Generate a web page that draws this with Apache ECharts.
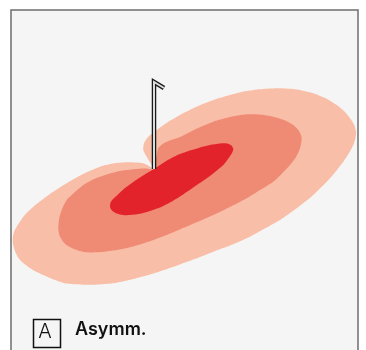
<!DOCTYPE html>
<html>
<head>
<meta charset="utf-8">
<script src="https://cdn.jsdelivr.net/npm/echarts@6/dist/echarts.min.js"></script>
<style>html,body{margin:0;padding:0;background:#fff;}#c{width:366px;height:350px;}</style>
</head>
<body>
<div id="c"></div>
<script>
// Contour outlines (data units relative to storm centre)
var outerContour = [[0,0],[-2.3,4],[-7.3,12.3],[-10.7,19],[-10,25.7],[-5.7,32.3],[2.7,39],[14,47],[26,54],[42,62],[59.3,69],[76,74],[92.7,78],[109,80],[126,80.7],[143,79.5],[159.3,75.7],[172,70.5],[182.7,64],[190,58],[196,50.7],[200,44.5],[202,37.3],[201.5,31],[199.3,24],[195,16],[189.3,7.3],[176,-9.3],[159.3,-26],[142.7,-39.3],[126,-51],[109,-60.5],[92.7,-69.3],[76,-76.5],[59.3,-82.7],[42,-89.6],[26,-95.5],[11,-100.7],[-4,-105.5],[-21,-110.1],[-37.3,-113.7],[-61,-115.8],[-87.3,-114.6],[-104,-109],[-121,-101],[-134,-91],[-139.5,-81],[-141.3,-71],[-140,-63],[-137.3,-57.7],[-130,-47],[-120.7,-37.7],[-104,-25],[-87.3,-14.3],[-71,-5],[-54,2.3],[-41,5.5],[-27.3,6.7],[-18,6.5],[-10.7,5.7],[-5,3]];
var middleContour = [[0,0],[1,6],[2,11],[4.3,20.7],[8,24.5],[12.7,27.3],[26,32],[42,40],[59.3,47.3],[76,52],[92.7,54.7],[106,54.5],[119.3,52.3],[130,49],[139.3,44],[145,38],[147.7,30.7],[146,20.7],[142,12],[136,4],[128,-4.5],[119.3,-12.7],[106,-21],[92.7,-29.3],[76,-38],[59.3,-46],[42,-53.6],[26,-60.4],[6,-68.4],[-14,-75.4],[-34,-80.4],[-54,-83],[-68,-83.3],[-77.3,-81],[-86,-77],[-90.7,-73],[-94.5,-66.5],[-95.7,-59],[-95,-51],[-94,-46],[-91,-38],[-87.3,-31],[-79,-23],[-70.7,-16],[-63,-11.5],[-54,-7.7],[-37.3,-2.7],[-20.7,-0.3],[-9,0.5]];
var innerContour = [[0,0],[6,4],[13,8.5],[26,15],[46,21.5],[56,24],[66,25.5],[73,25.5],[77.5,23.5],[79.3,20],[78,16],[73,8.5],[69.3,4],[61,-3],[52.7,-9.3],[40,-18],[26,-27.5],[16,-33.5],[6,-38.5],[-4,-42],[-14,-44.8],[-27.3,-46.2],[-34,-45.5],[-38.5,-44],[-41.5,-42],[-43.5,-39.5],[-44,-36.5],[-43.2,-33],[-41,-30],[-37,-26.5],[-33,-22.5],[-27.3,-17.7],[-21,-13.2],[-14,-8.6],[-6,-3.6]];
var contourColors = ['#f9bea8', '#ef8a74', '#e3232b'];
// Wind barb at centre: stem and one barb
var barbLine = [[0,0],[0,87],[10,81]];
var panelLabel = 'A';
var panelTitle = 'Asymm.';

var contours = [outerContour, middleContour, innerContour];
var chart = echarts.init(document.getElementById('c'), null, {renderer: 'canvas'});
chart.setOption({
  animation: false,
  backgroundColor: '#ffffff',
  grid: {left: 11, right: 8, top: 10, bottom: 0, show: true, backgroundColor: '#f5f5f5', borderWidth: 0},
  xAxis: {type: 'value', min: -143, max: 204, show: false},
  yAxis: {type: 'value', min: -181, max: 159, show: false},
  series: [
    {
      type: 'custom',
      clip: true,
      data: contours.map(function (c, i) { return [i]; }),
      renderItem: function (params, api) {
        var i = api.value(0);
        var pts = contours[i].map(function (p) { return api.coord(p); });
        return {type: 'polygon', shape: {points: pts, smooth: 0.25}, style: {fill: contourColors[i], stroke: null}};
      }
    },
    {
      type: 'custom',
      data: [[0]],
      renderItem: function (params, api) {
        var pts = barbLine.map(function (p) { return api.coord(p); });
        return {type: 'group', children: [
          {type: 'polyline', shape: {points: pts}, style: {stroke: '#1a1a1a', lineWidth: 4.5, fill: null, lineJoin: 'miter', lineCap: 'butt'}},
          {type: 'polyline', shape: {points: pts}, style: {stroke: '#dcdcdc', lineWidth: 2, fill: null, lineJoin: 'miter', lineCap: 'butt'}}
        ]};
      }
    }
  ],
  graphic: [
    {type: 'polyline', shape: {points: [[11, 360], [11, 10], [358, 10], [358, 360]]}, style: {stroke: '#6e6e6e', lineWidth: 1.5, fill: null}},
    {type: 'rect', left: 31, top: 317, shape: {width: 27, height: 28}, style: {fill: 'none', stroke: '#111', lineWidth: 1.5}},
    {type: 'text', x: 45, y: 332, style: {text: panelLabel, font: '300 20px Inter', fill: '#111', align: 'center', verticalAlign: 'middle'}},
    {type: 'text', left: 75, top: 321, style: {text: panelTitle, font: '600 18px Inter', fill: '#111'}}
  ]
});
</script>
</body>
</html>
